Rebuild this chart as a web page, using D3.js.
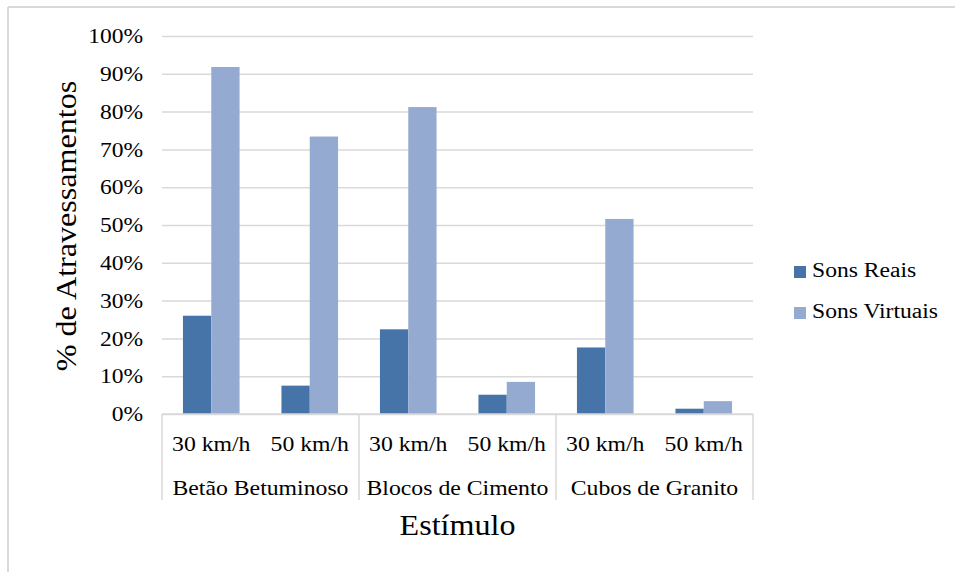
<!DOCTYPE html>
<html>
<head>
<meta charset="utf-8">
<script src="https://cdn.jsdelivr.net/npm/d3@7"></script>
<style>
  html, body { margin: 0; padding: 0; background: #fff; }
  svg { display: block; font-family: "Liberation Serif", "Times New Roman", serif; }
</style>
</head>
<body>
<svg id="chart" width="955" height="572"></svg>
<script>
// Surfaces and speeds
const groups = ["Betão Betuminoso", "Blocos de Cimento", "Cubos de Granito"];
const speeds = ["30 km/h", "50 km/h"];
const seriesNames = ["Sons Reais", "Sons Virtuais"];
const seriesColors = ["#4673a8", "#95aad1"];

// Share of crossings per stimulus (group × speed), in order
const sonsReais    = [0.26, 0.075, 0.224, 0.051, 0.176, 0.014];
const sonsVirtuais = [0.918, 0.734, 0.812, 0.085, 0.516, 0.034];

const yTicks = [0, 0.1, 0.2, 0.3, 0.4, 0.5, 0.6, 0.7, 0.8, 0.9, 1.0];

const svg = d3.select("#chart");
const plot = { left: 162, right: 753, top: 36, bottom: 414 };

// Widen a text selection horizontally by a factor, keeping its anchor
function widen(sel, factor) {
  sel.each(function () {
    const w = this.getComputedTextLength();
    d3.select(this).attr("textLength", w * factor).attr("lengthAdjust", "spacingAndGlyphs");
  });
}

// Outer frame (top and left edges)
svg.append("line").attr("x1", 8).attr("x2", 955).attr("y1", 7).attr("y2", 7)
  .attr("stroke", "#d9d9d9").attr("stroke-width", 2);
svg.append("line").attr("x1", 8).attr("x2", 8).attr("y1", 7).attr("y2", 572)
  .attr("stroke", "#d9d9d9").attr("stroke-width", 2);

const slots = [];
groups.forEach((g, gi) => speeds.forEach((s, si) => slots.push({ key: gi + "|" + si, group: g, speed: s, i: gi * speeds.length + si })));

const x0 = d3.scaleBand().domain(slots.map(d => d.key)).range([plot.left, plot.right]).padding(0);
const x1 = d3.scaleBand().domain(seriesNames).range([0, x0.bandwidth()]).paddingInner(0).paddingOuter(0.74);
const y = d3.scaleLinear().domain([0, 1]).range([plot.bottom, plot.top]);

// Gridlines and y tick labels
const yAxis = d3.axisLeft(y).tickValues(yTicks).tickFormat(d3.format(".0%"))
  .tickSize(-(plot.right - plot.left)).tickPadding(19);
const ya = svg.append("g").attr("transform", `translate(${plot.left},0)`).call(yAxis);
ya.select(".domain").remove();
ya.selectAll(".tick line").attr("stroke", "#d9d9d9").attr("stroke-width", 1.5);
ya.selectAll(".tick text").attr("fill", "#000").style("font-size", "21px")
  .style("font-family", "'Liberation Serif', 'Times New Roman', serif")
  .call(widen, 1.12);

// Bars
const seriesData = [sonsReais, sonsVirtuais];
seriesNames.forEach((name, k) => {
  svg.append("g").selectAll("rect").data(slots).join("rect")
    .attr("x", d => x0(d.key) + x1(name))
    .attr("width", x1.bandwidth())
    .attr("y", d => y(seriesData[k][d.i]))
    .attr("height", d => y(0) - y(seriesData[k][d.i]))
    .attr("fill", seriesColors[k]);
});

// Category axis: baseline and group separators
const axisColor = "#d9d9d9";
svg.append("line").attr("x1", plot.left).attr("x2", plot.right)
  .attr("y1", plot.bottom).attr("y2", plot.bottom)
  .attr("stroke", axisColor).attr("stroke-width", 1.5);
const groupEdges = d3.range(groups.length + 1).map(i =>
  i < groups.length ? x0(i + "|0") : plot.right);
svg.append("g").selectAll("line").data(groupEdges).join("line")
  .attr("x1", d => d).attr("x2", d => d)
  .attr("y1", plot.bottom).attr("y2", 500)
  .attr("stroke", axisColor).attr("stroke-width", 1.5);

// Speed labels
svg.append("g").selectAll("text").data(slots).join("text")
  .attr("x", d => x0(d.key) + x0.bandwidth() / 2)
  .attr("y", 451)
  .attr("text-anchor", "middle")
  .style("font-size", "21px")
  .text(d => d.speed)
  .call(widen, 1.13);

// Surface labels
svg.append("g").selectAll("text").data(groups).join("text")
  .attr("x", (d, i) => (groupEdges[i] + groupEdges[i + 1]) / 2)
  .attr("y", 495)
  .attr("text-anchor", "middle")
  .style("font-size", "21px")
  .text(d => d)
  .call(widen, 1.13);

// Axis titles
svg.append("text").attr("x", (plot.left + plot.right) / 2).attr("y", 535)
  .attr("text-anchor", "middle").style("font-size", "30px").text("Estímulo")
  .call(widen, 1.07);
svg.append("text")
  .attr("transform", `translate(76,${(plot.top + plot.bottom) / 2 + 1}) rotate(-90)`)
  .attr("text-anchor", "middle").style("font-size", "30px").text("% de Atravessamentos")
  .call(widen, 1.07);

// Legend
const legend = svg.append("g").selectAll("g").data(seriesNames).join("g")
  .attr("transform", (d, i) => `translate(794,${266 + i * 41})`);
legend.append("rect").attr("width", 12).attr("height", 12)
  .attr("fill", (d, i) => seriesColors[i]);
legend.append("text").attr("x", 18).attr("y", 11)
  .style("font-size", "20px").text(d => d)
  .call(widen, 1.18);
</script>
</body>
</html>
